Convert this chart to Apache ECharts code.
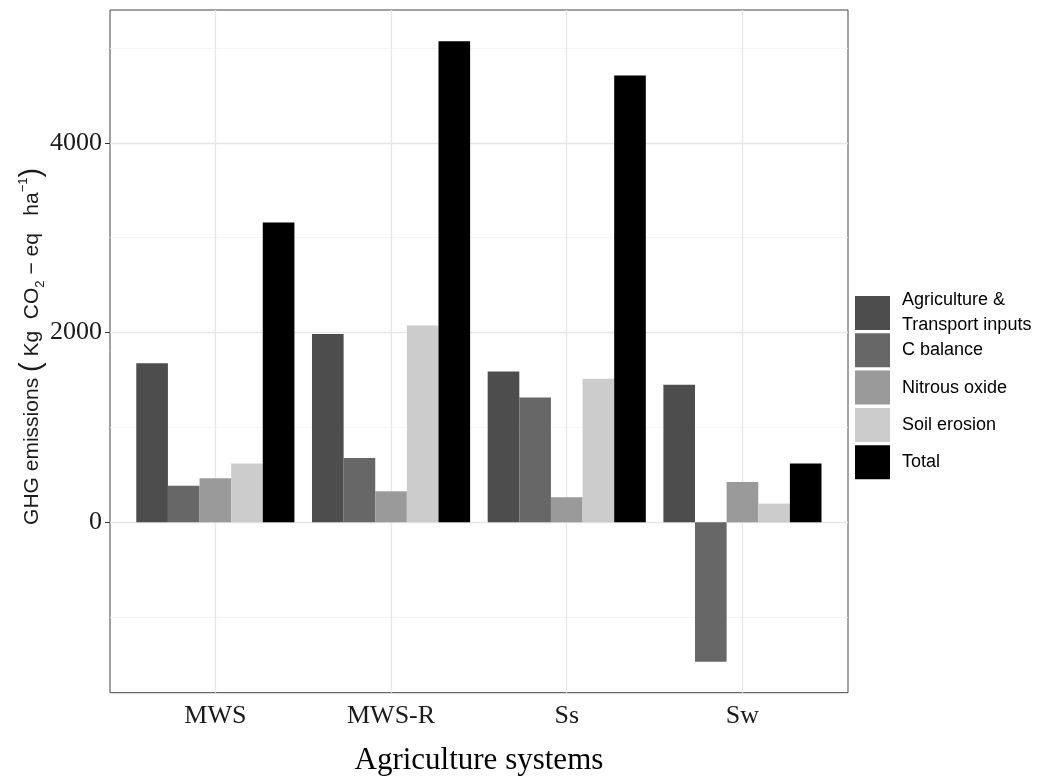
<!DOCTYPE html>
<html>
<head>
<meta charset="utf-8">
<script src="https://cdn.jsdelivr.net/npm/echarts@6/dist/echarts.min.js"></script>
<style>
html,body{margin:0;padding:0;background:#fff;}
#chart{width:1055px;height:783px;}
</style>
</head>
<body>
<div id="chart"></div>
<script>
// ---- data ----
const categories = ['MWS', 'MWS-R', 'Ss', 'Sw'];
const seriesNames = ['Agriculture & Transport inputs', 'C balance', 'Nitrous oxide', 'Soil erosion', 'Total'];
const agricultureTransport = [1675, 1985, 1590, 1450];
const cBalance = [385, 677, 1315, -1472];
const nitrousOxide = [465, 326, 263, 425];
const soilErosion = [620, 2074, 1512, 196];
const total = [3160, 5070, 4710, 618];
const yTickValues = [0, 2000, 4000];
const majorGrid = [0, 2000, 4000];
const minorGrid = [-1000, 1000, 3000, 5000];

const colors = ['#4d4d4d', '#676767', '#9a9a9a', '#cccccc', '#000000'];
const seriesData = [agricultureTransport, cBalance, nitrousOxide, soilErosion, total];
const yMin = -1797, yMax = 5400;
const SERIF = 'Liberation Serif';
const SANS = 'Liberation Sans';

const chart = echarts.init(document.getElementById('chart'), null, {renderer: 'canvas'});

const barSeries = seriesNames.map((n, i) => ({
  name: n,
  type: 'bar',
  xAxisIndex: 1,
  yAxisIndex: 1,
  data: seriesData[i],
  barGap: '0%',
  barCategoryGap: '10%',
  itemStyle: {color: colors[i]},
  z: 3,
  animation: false
}));

const hLines = majorGrid.map(v => ({yAxis: v, lineStyle: {color: '#e6e6e6', width: 1.3}}))
  .concat(minorGrid.map(v => ({yAxis: v, lineStyle: {color: '#f2f2f2', width: 0.8}})));
const vLines = categories.map(c => ({xAxis: c, lineStyle: {color: '#e6e6e6', width: 1.3}}));

const option = {
  backgroundColor: '#ffffff',
  animation: false,
  grid: [
    {left: 110, right: 1055 - 848, top: 10, bottom: 783 - 692.7, show: true,
     borderColor: '#444', borderWidth: 1, backgroundColor: 'transparent', containLabel: false},
    {left: 127.5, right: 1055 - 830.3, top: 10, bottom: 783 - 692.7, containLabel: false}
  ],
  xAxis: [
    {type: 'value', gridIndex: 0, min: 0, max: 1, show: false},
    {type: 'category', gridIndex: 1, data: categories,
     axisLine: {show: false},
     axisTick: {show: true, alignWithLabel: true, length: 5, lineStyle: {color: '#333', width: 1}},
     axisLabel: {fontFamily: SERIF, fontSize: 26, color: '#1a1a1a', margin: 10},
     splitLine: {show: false},
     name: 'Agriculture systems', nameLocation: 'middle', nameGap: 53, nameMoveOverlap: false,
     nameTextStyle: {fontFamily: SERIF, fontSize: 31, color: '#000'}}
  ],
  yAxis: [
    {type: 'value', gridIndex: 0, min: yMin, max: yMax,
     axisLine: {show: false},
     axisTick: {show: true, length: 5, customValues: yTickValues, lineStyle: {color: '#333', width: 1}},
     axisLabel: {fontFamily: SERIF, fontSize: 26, color: '#1a1a1a', margin: 8, customValues: yTickValues,
       formatter: v => String(v)},
     splitLine: {show: false},
     name: '{a|GHG emissions }{p|(}{a| Kg  CO}{s|2}{a| − eq   ha}{u|−1}{p|)}',
     nameLocation: 'middle', nameRotate: 90, nameGap: 63, nameMoveOverlap: false,
     nameTextStyle: {
       fontFamily: SANS, color: '#1a1a1a', padding: [0, 0, 0, 10],
       rich: {
         a: {fontFamily: SANS, fontSize: 21, lineHeight: 30, color: '#1a1a1a'},
         p: {fontFamily: SANS, fontSize: 29, lineHeight: 30, color: '#1a1a1a'},
         s: {fontFamily: SANS, fontSize: 13, lineHeight: 13, verticalAlign: 'bottom', color: '#1a1a1a'},
         u: {fontFamily: SANS, fontSize: 13, lineHeight: 13, verticalAlign: 'top', color: '#1a1a1a'}
       }
     }},
    {type: 'value', gridIndex: 1, min: yMin, max: yMax, show: false, splitLine: {show: false}}
  ],
  legend: [
    {orient: 'vertical', left: 855, top: 288, padding: 0, itemGap: 3,
     itemWidth: 35, itemHeight: 34, icon: 'rect', selectedMode: false,
     data: [seriesNames[0]],
     formatter: () => 'Agriculture &\nTransport inputs',
     textStyle: {fontFamily: SANS, fontSize: 18, lineHeight: 25, color: '#000', padding: [0, 0, 0, 7]}},
    {orient: 'vertical', left: 855, top: 333.3, padding: 0, itemGap: 3.3,
     itemWidth: 35, itemHeight: 34, icon: 'rect', selectedMode: false,
     data: [
       {name: seriesNames[1], textStyle: {padding: [4, 0, 0, 7]}},
       {name: seriesNames[2], textStyle: {padding: [4, 0, 0, 7]}},
       {name: seriesNames[3], textStyle: {padding: [14, 0, 0, 7]}},
       {name: seriesNames[4], textStyle: {padding: [10, 0, 0, 7]}}
     ],
     textStyle: {fontFamily: SANS, fontSize: 18, color: '#000', padding: [0, 0, 0, 7]}}
  ],
  series: [
    {type: 'line', xAxisIndex: 0, yAxisIndex: 0, data: [], z: 1, silent: true,
     markLine: {silent: true, symbol: 'none', z: 1, animation: false, label: {show: false},
       lineStyle: {type: 'solid'}, data: hLines}},
    {type: 'line', xAxisIndex: 1, yAxisIndex: 1, data: [], z: 1, silent: true,
     markLine: {silent: true, symbol: 'none', z: 1, animation: false, label: {show: false},
       lineStyle: {type: 'solid'}, data: vLines}}
  ].concat(barSeries)
};
chart.setOption(option);
</script>
</body>
</html>
